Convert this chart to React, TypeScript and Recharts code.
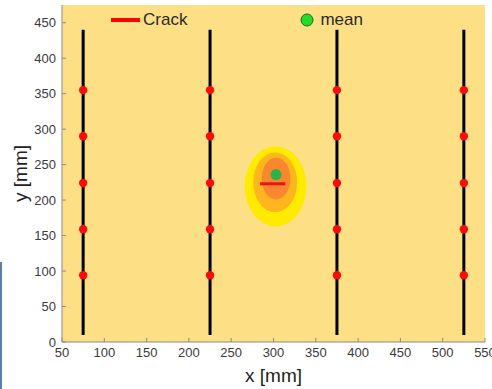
import React from "react";
import { CartesianGrid, ComposedChart, Legend, Line, ReferenceArea, Scatter, XAxis, YAxis } from "recharts";

// axis ticks
const xTicks = [50, 100, 150, 200, 250, 300, 350, 400, 450, 500, 550];
const yTicks = [0, 50, 100, 150, 200, 250, 300, 350, 400, 450];

// sensor rails (vertical black lines) and sensor positions along them
const railX = [75, 225, 375, 525];
const railEnds = [10, 440];
const sensorY = [94, 159, 224, 290, 355];

// probability zones around the crack (outer -> inner)
const zoneX1 = [266, 276, 286];
const zoneX2 = [339, 328, 320];
const zoneY1 = [163, 183, 201];
const zoneY2 = [276, 267, 260];
const zoneColors = ["#FFEA00", "#FDB61E", "#F8872E"];

// crack and estimated mean
const crackX = [284, 314];
const crackY = [223, 223];
const meanX = [303];
const meanY = [236];

const FONT = '"Liberation Sans", Arial, Helvetica, sans-serif';

const railData = railX.map((x) => railEnds.map((y) => ({ x, y })));
const sensorData = railX.flatMap((x) => sensorY.map((y) => ({ x, y })));
const crackData = crackX.map((x, i) => ({ x, y: crackY[i] }));
const meanData = meanX.map((x, i) => ({ x, y: meanY[i] }));

const renderLegend = (props: any) => {
  const items = (props.payload || []).filter((p: any) => p.type !== "none");
  return (
    <div style={{ display: "flex", alignItems: "center", fontFamily: FONT, fontSize: 17, color: "#2a2a2a", lineHeight: "20px" }}>
      {items.map((p: any) =>
        p.type === "line" ? (
          <div key={p.value} style={{ display: "flex", alignItems: "center", marginRight: 113 }}>
            <span style={{ display: "inline-block", width: 29, height: 4, background: "#FF0000", marginRight: 3 }} />
            <span>{p.value}</span>
          </div>
        ) : (
          <div key={p.value} style={{ display: "flex", alignItems: "center" }}>
            <svg width={14} height={14} style={{ marginRight: 6 }}>
              <circle cx={7} cy={7} r={6} fill="#22DD22" stroke="#2c5a2c" strokeWidth={1} />
            </svg>
            <span>{p.value}</span>
          </div>
        )
      )}
    </div>
  );
};

const YLabel = (props: any) => {
  const { viewBox } = props;
  const cx = viewBox.x + 20;
  const cy = viewBox.y + viewBox.height / 2;
  return (
    <text x={cx} y={cy} transform={`rotate(-90, ${cx}, ${cy})`} textAnchor="middle" dominantBaseline="central" fontFamily={FONT} fontSize={19} fill="#222">
      y [mm]
    </text>
  );
};

export default function App() {
  return (
    <div style={{ position: "fixed", left: 0, top: 0, width: 492, height: 389, background: "#fff" }}>
      <div style={{ position: "absolute", left: 0, top: 262, width: 2, height: 127, background: "#5A7FA8" }} />
      <ComposedChart width={492} height={389} margin={{ top: 5, right: 7, bottom: 0, left: 0 }}>
        <CartesianGrid fill="#FDE086" horizontal={false} vertical={false} />
        <XAxis
          type="number"
          dataKey="x"
          domain={[50, 550]}
          ticks={xTicks}
          interval={0}
          height={47}
          tickSize={-4}
          tickMargin={10}
          stroke="#8a8a8a"
          tick={{ fill: "#3a3a3a", fontSize: 13, fontFamily: FONT }}
          label={{ value: "x [mm]", position: "insideBottom", offset: 7, fontSize: 19, fontFamily: FONT, fill: "#222" }}
        />
        <XAxis
          xAxisId="top"
          orientation="top"
          type="number"
          domain={[50, 550]}
          ticks={xTicks}
          interval={0}
          height={0}
          tickSize={-4}
          tick={false}
          stroke="#8a8a8a"
        />
        <YAxis
          type="number"
          dataKey="y"
          domain={[0, 475]}
          ticks={yTicks}
          interval={0}
          width={62}
          tickSize={-4}
          tickMargin={10}
          stroke="#8a8a8a"
          tick={{ fill: "#3a3a3a", fontSize: 13, fontFamily: FONT }}
          label={<YLabel />}
        />
        <YAxis
          yAxisId="right"
          orientation="right"
          type="number"
          domain={[0, 475]}
          ticks={yTicks}
          interval={0}
          width={0}
          tickSize={-4}
          tick={false}
          stroke="#8a8a8a"
        />
        {zoneColors.map((c, i) => (
          <ReferenceArea
            key={c}
            x1={zoneX1[i]}
            x2={zoneX2[i]}
            y1={zoneY1[i]}
            y2={zoneY2[i]}
            shape={(p: any) => (
              <ellipse cx={p.x + p.width / 2} cy={p.y + p.height / 2} rx={p.width / 2} ry={p.height / 2} fill={c} />
            )}
          />
        ))}
        {railData.map((d, i) => (
          <Line
            key={`rail-${i}`}
            data={d}
            dataKey="y"
            stroke="#000"
            strokeWidth={3}
            dot={false}
            activeDot={false}
            legendType="none"
            isAnimationActive={false}
          />
        ))}
        <Scatter
          data={sensorData}
          legendType="none"
          isAnimationActive={false}
          shape={(p: any) => <circle cx={p.cx} cy={p.cy} r={4.2} fill="#FF0A0A" />}
        />
        <Line
          name="Crack"
          data={crackData}
          dataKey="y"
          stroke="#E8141C"
          strokeWidth={3}
          dot={false}
          activeDot={false}
          legendType="line"
          isAnimationActive={false}
        />
        <Scatter
          name="mean"
          data={meanData}
          legendType="circle"
          isAnimationActive={false}
          shape={(p: any) => <circle cx={p.cx} cy={p.cy} r={5.5} fill="#2FB14A" />}
        />
        <Legend
          verticalAlign="middle"
          align="center"
          layout="horizontal"
          content={renderLegend}
          wrapperStyle={{ top: 10, left: 111, width: "auto", height: 20 }}
        />
      </ComposedChart>
    </div>
  );
}
